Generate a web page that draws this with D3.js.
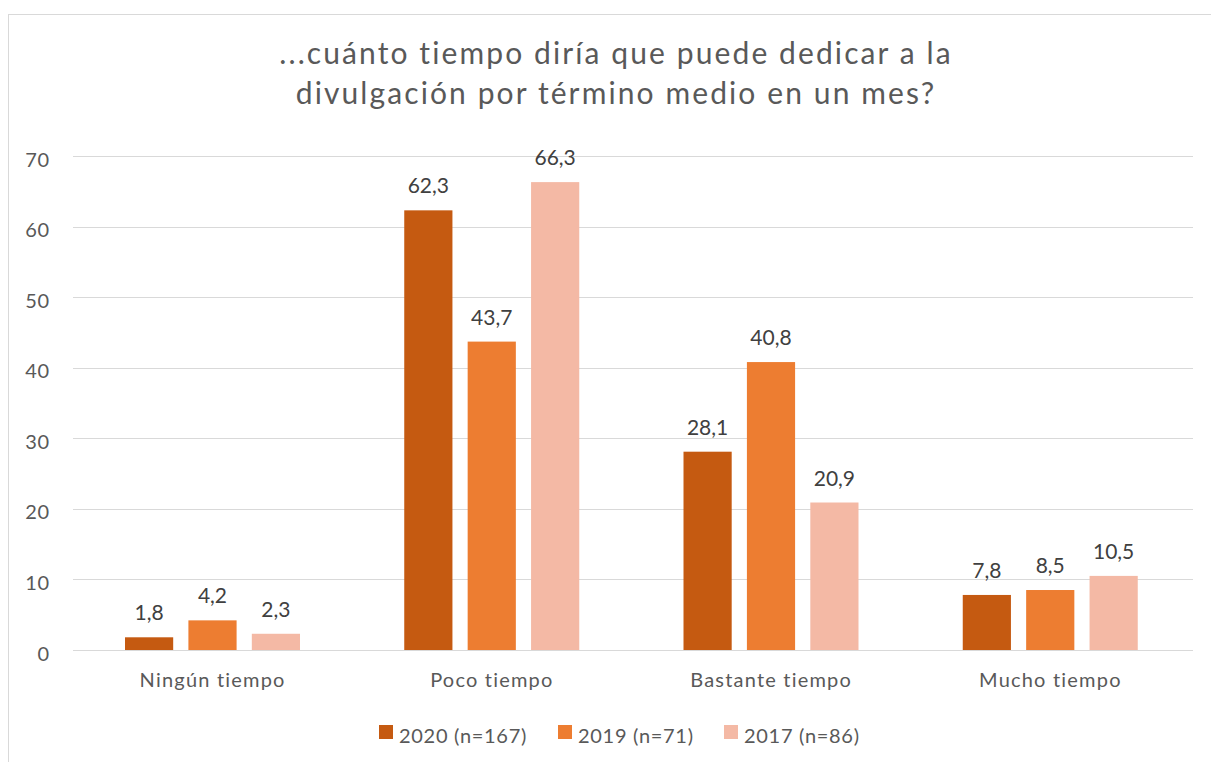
<!DOCTYPE html>
<html>
<head>
<meta charset="utf-8">
<script src="https://cdn.jsdelivr.net/npm/d3@7"></script>
<style>
  body { margin: 0; background: #fff; }
  svg { font-family: Lato, "Open Sans", sans-serif; }
</style>
</head>
<body>
<div id="chart"></div>
<script>
// data
const categories = ["Ningún tiempo", "Poco tiempo", "Bastante tiempo", "Mucho tiempo"];
const seriesNames = ["2020 (n=167)", "2019 (n=71)", "2017 (n=86)"];
const values2020 = [1.8, 62.3, 28.1, 7.8];
const values2019 = [4.2, 43.7, 40.8, 8.5];
const values2017 = [2.3, 66.3, 20.9, 10.5];
const yTicks = [0, 10, 20, 30, 40, 50, 60, 70];
const colors = ["#C55A11", "#ED7D31", "#F4B9A5"];

const allSeries = [values2020, values2019, values2017];

const width = 1211, height = 762;
const margin = { top: 156, bottom: 112, left: 73, right: 18 };

const svg = d3.select("#chart").append("svg")
    .attr("width", width)
    .attr("height", height);

// chart border
svg.append("rect")
    .attr("x", 8.5).attr("y", 14.5)
    .attr("width", 1220).attr("height", 760)
    .attr("fill", "none")
    .attr("stroke", "#d9d9d9");

const g = svg.append("g").attr("transform", `translate(${margin.left},${margin.top})`);
const innerW = width - margin.left - margin.right;
const innerH = height - margin.top - margin.bottom;

const x = d3.scaleBand().domain(categories).range([0, innerW - 3]);
const x1 = d3.scaleBand().domain(d3.range(3)).range([52, 227]).paddingInner(0.24);
const y = d3.scaleLinear().domain([0, 70]).range([innerH, 0]);

// title
svg.append("text")
    .attr("text-anchor", "middle")
    .attr("x", 616).attr("y", 64)
    .attr("font-size", 30)
    .attr("letter-spacing", 2.1)
    .attr("fill", "#595959")
    .selectAll("tspan")
    .data(["...cuánto tiempo diría que puede dedicar a la", "divulgación por término medio en un mes?"])
    .join("tspan")
      .attr("x", 616)
      .attr("dy", (d, i) => i ? 40 : 0)
      .text(d => d);

// gridlines
g.selectAll(".grid")
    .data(yTicks)
    .join("line")
      .attr("x1", 0).attr("x2", innerW)
      .attr("y1", d => Math.round(y(d)) + 0.5)
      .attr("y2", d => Math.round(y(d)) + 0.5)
      .attr("stroke", "#d9d9d9")
      .attr("stroke-width", 1);

// y axis
const yaxis = d3.axisLeft(y).tickValues(yTicks).tickSize(0).tickPadding(23);
g.append("g").call(yaxis)
    .call(s => s.select(".domain").remove())
    .selectAll("text")
      .attr("dy", "0.5em")
      .attr("font-size", 20)
      .attr("letter-spacing", 0.8)
      .attr("fill", "#595959")
      .attr("font-family", "Lato, sans-serif");

// x axis labels
const xaxis = d3.axisBottom(x).tickSize(0).tickPadding(0);
g.append("g").attr("transform", `translate(0,${innerH})`).call(xaxis)
    .call(s => s.select(".domain").remove())
    .selectAll("text")
      .attr("y", 37).attr("dy", 0)
      .attr("font-size", 20)
      .attr("letter-spacing", 1.2)
      .attr("fill", "#595959")
      .attr("font-family", "Lato, sans-serif");

// bars
const groups = g.selectAll(".cat")
    .data(categories)
    .join("g")
      .attr("transform", d => `translate(${x(d)},0)`);

groups.selectAll("rect")
    .data((d, i) => allSeries.map((s, j) => ({ s: j, v: s[i] })))
    .join("rect")
      .attr("x", d => x1(d.s))
      .attr("width", x1.bandwidth())
      .attr("y", d => y(d.v))
      .attr("height", d => y(0) - y(d.v))
      .attr("fill", d => colors[d.s]);

groups.selectAll(".lbl")
    .data((d, i) => allSeries.map((s, j) => ({ s: j, v: s[i] })))
    .join("text")
      .attr("class", "lbl")
      .attr("text-anchor", "middle")
      .attr("x", d => x1(d.s) + x1.bandwidth() / 2)
      .attr("y", d => y(d.v) - 17)
      .attr("font-size", 21)
      .attr("fill", "#404040")
      .text(d => d3.format(".1f")(d.v).replace(".", ","));

// legend
const legendX = [379, 558, 724];
const legend = svg.append("g").attr("transform", "translate(0,732)");
const li = legend.selectAll("g")
    .data(seriesNames)
    .join("g")
      .attr("transform", (d, i) => `translate(${legendX[i]},0)`);
li.append("rect")
    .attr("x", 0).attr("y", -7)
    .attr("width", 14).attr("height", 14)
    .attr("fill", (d, i) => colors[i]);
li.append("text")
    .attr("x", 20).attr("y", 11)
    .attr("font-size", 20)
    .attr("letter-spacing", 0.7)
    .attr("fill", "#595959")
    .text(d => d);
</script>
</body>
</html>
